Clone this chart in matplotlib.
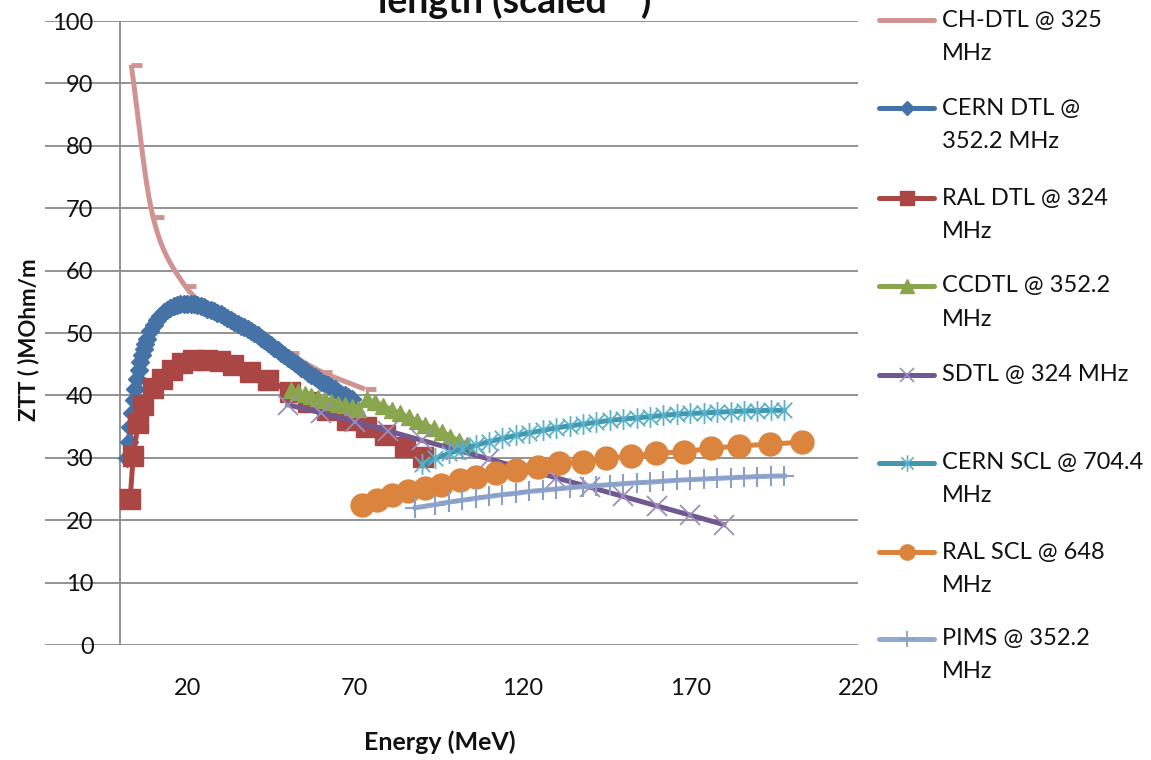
import numpy as np
import matplotlib
matplotlib.use('Agg')
import matplotlib.pyplot as plt
from matplotlib.path import Path
from matplotlib.lines import Line2D

# ---------------- data ----------------
ch_dtl_x = [3.3, 9.8, 19.3, 30, 40, 50, 60, 73]
ch_dtl_y = [93.0, 68.6, 57.6, 52.8, 49.6, 46.8, 43.8, 41.0]

cern_dtl_x = [2, 2.5, 3, 3.5, 4, 4.5, 5, 5.5, 6, 6.5, 7, 7.5, 8, 9, 10, 11, 12, 13, 14, 15,
              16, 17, 18, 19, 20, 21, 22, 23, 24, 25, 26, 27, 28, 29, 30, 31, 32, 33, 34, 35,
              36, 37, 38, 39, 40, 41, 42, 43, 44, 45, 46, 47, 48, 49, 50, 51, 52, 53, 54, 55,
              56, 57, 58, 59, 60, 61, 62, 63, 64, 65, 66, 67, 68, 69]
cern_dtl_y = [30.0, 32.6, 35.0, 37.2, 39.2, 41.0, 42.6, 44.0, 45.3, 46.4, 47.4, 48.3, 49.0, 50.3,
              51.3, 52.1, 52.8, 53.3, 53.7, 54.0, 54.3, 54.5, 54.6, 54.7, 54.7, 54.7, 54.6, 54.5,
              54.3, 54.1, 53.9, 53.7, 53.5, 53.2, 53.0, 52.7, 52.4, 52.1, 51.8, 51.5, 51.2, 50.9,
              50.6, 50.3, 50.0, 49.6, 49.2, 48.8, 48.4, 48.0, 47.6, 47.2, 46.8, 46.4, 46.0, 45.6,
              45.2, 44.8, 44.4, 44.0, 43.6, 43.3, 42.9, 42.6, 42.2, 41.9, 41.6, 41.3, 41.0, 40.6,
              40.3, 40.0, 39.7, 39.4]

ral_dtl_x = [3.0, 3.9, 5.4, 6.9, 9.9, 12.4, 15.4, 18.4, 21.8, 25.8, 29.8, 33.7, 38.7, 44.1,
             50.6, 56.0, 61.6, 67.5, 73.4, 78.9, 84.8, 90.2]
ral_dtl_y = [23.4, 30.3, 35.6, 38.5, 41.2, 42.7, 44.1, 45.2, 45.6, 45.7, 45.5, 44.9, 43.8, 42.5,
             40.6, 39.0, 37.7, 36.1, 35.0, 33.7, 31.8, 30.2]

ccdtl_x = [51, 53, 55, 57, 59, 61, 63, 65, 67, 69, 71,
           73.5, 76, 78.5, 81, 83.5, 86, 88.5, 91, 93.5, 96, 98.5, 101, 103.5]
ccdtl_y = [40.8, 40.5, 40.2, 39.9, 39.6, 39.3, 39.0, 38.7, 38.4, 38.1, 37.8,
           39.4, 38.9, 38.3, 37.7, 37.1, 36.5, 35.9, 35.3, 34.7, 34.1, 33.4, 32.7, 32.0]

sdtl_x = [50, 60, 70, 80, 90, 100, 110, 120, 130, 140, 150, 160, 170, 180]
sdtl_y = [38.5, 37.2, 35.8, 34.3, 32.8, 31.3, 29.8, 28.3, 26.8, 25.3, 23.8, 22.3, 20.8, 19.3]

cern_scl_x = [90, 94, 98, 102, 106, 110, 114, 118, 122, 126, 130, 134, 138, 142, 146, 150,
              154, 158, 162, 166, 170, 174, 178, 182, 186, 190, 194, 198]
cern_scl_y = [29.0, 29.9, 30.7, 31.4, 32.0, 32.6, 33.1, 33.6, 34.0, 34.4, 34.8, 35.1, 35.4,
              35.7, 36.0, 36.2, 36.4, 36.6, 36.8, 37.0, 37.1, 37.2, 37.3, 37.4, 37.5, 37.55,
              37.6, 37.6]

ral_scl_x = [72, 76.5, 81, 85.8, 90.8, 95.7, 101.2, 106.2, 112.1, 118.1, 124.5, 131, 137.9,
             144.8, 152.3, 159.7, 168.2, 176.1, 184.5, 193.9, 203.4]
ral_scl_y = [22.4, 23.2, 24.0, 24.6, 25.2, 25.7, 26.4, 27.0, 27.6, 28.1, 28.5, 29.1, 29.4,
             29.9, 30.3, 30.7, 31.0, 31.5, 31.9, 32.2, 32.5]

pims_x = [88, 94, 98, 102, 106, 110, 114, 118, 122, 126, 130, 134, 138, 142, 146, 150, 154,
          158, 162, 166, 170, 174, 178, 182, 186, 190, 194, 198]
pims_y = [22.0, 22.5, 22.9, 23.2, 23.5, 23.8, 24.1, 24.3, 24.6, 24.8, 25.0, 25.2, 25.4, 25.55,
          25.7, 25.85, 26.0, 26.1, 26.25, 26.4, 26.5, 26.6, 26.7, 26.8, 26.9, 27.0, 27.05, 27.1]

labels = ["CH-DTL @ 325\nMHz", "CERN DTL @\n352.2 MHz", "RAL DTL @ 324\nMHz",
          "CCDTL @ 352.2\nMHz", "SDTL @ 324 MHz", "CERN SCL @ 704.4\nMHz",
          "RAL SCL @ 648\nMHz", "PIMS @ 352.2\nMHz"]
x_ticks = [20, 70, 120, 170, 220]
y_ticks = [0, 10, 20, 30, 40, 50, 60, 70, 80, 90, 100]

# ---------------- styling ----------------
PINK, BLUE, RED, GREEN = '#D19392', '#4572A7', '#AA4643', '#89A54E'
PURPLE, TEAL, ORANGE, LBLUE = '#71588F', '#4198AF', '#DB843D', '#93A9CF'
GRID = '#8a8a8a'
TXT = '#111111'

W, H = 1151, 760
plt.rcParams['font.family'] = ['Lato', 'DejaVu Sans']
fig = plt.figure(figsize=(W / 100, H / 100), dpi=100)


def fx(px):
    return px / W


def fy(py):
    return 1 - py / H


ax = fig.add_axes([fx(45), fy(645), fx(858) - fx(45), fy(21) - fy(645)])
ax.set_xlim(-22.4, 220)
ax.set_ylim(0, 100)
for s in ax.spines.values():
    s.set_visible(False)
ax.set_axisbelow(True)
ax.yaxis.grid(True, color=GRID, lw=1.3)
ax.axvline(0, color=GRID, lw=1.3, zorder=0.6)
ax.set_yticks(y_ticks)
ax.set_xticks(x_ticks)
ax.tick_params(axis='y', length=0, pad=-35, labelsize=17, labelcolor=TXT)
ax.tick_params(axis='x', length=0, pad=24, labelsize=17, labelcolor=TXT)

dash = Path([(0, 0), (1, 0)], [Path.MOVETO, Path.LINETO])
star = Path([(-1, -1), (1, 1), (-1, 1), (1, -1), (0, -1.35), (0, 1.35)],
            [Path.MOVETO, Path.LINETO, Path.MOVETO, Path.LINETO, Path.MOVETO, Path.LINETO])


def smooth(x, y, n=20):
    P = np.column_stack([np.asarray(x, float), np.asarray(y, float)])
    P = np.vstack([2 * P[0] - P[1], P, 2 * P[-1] - P[-2]])
    t = np.linspace(0, 1, n, endpoint=False)[:, None]
    out = []
    for i in range(1, len(P) - 2):
        p0, p1, p2, p3 = P[i - 1], P[i], P[i + 1], P[i + 2]
        out.append(0.5 * (2 * p1 + (-p0 + p2) * t + (2 * p0 - 5 * p1 + 4 * p2 - p3) * t ** 2
                          + (-p0 + 3 * p1 - 3 * p2 + p3) * t ** 3))
    out.append(P[-2][None, :])
    out = np.vstack(out)
    return out[:, 0], out[:, 1]


LW = 3.6
sx, sy = smooth(ch_dtl_x, ch_dtl_y)
ax.plot(sx, sy, color=PINK, lw=LW, zorder=2, solid_capstyle='butt')
ax.plot(ch_dtl_x, ch_dtl_y, ls='none', marker=dash, ms=16, mew=3.5, mec=PINK, zorder=2)

ax.plot(cern_dtl_x, cern_dtl_y, color=BLUE, lw=LW, marker='D', ms=9.5, mfc=BLUE, mec=BLUE, zorder=3)
ax.plot(ral_dtl_x, ral_dtl_y, color=RED, lw=LW, marker='s', ms=15, mfc=RED, mec=RED, zorder=4)
ax.plot(ccdtl_x, ccdtl_y, color=GREEN, lw=LW, marker='^', ms=12, mfc=GREEN, mec=GREEN, zorder=5)
ax.plot(sdtl_x, sdtl_y, color=PURPLE, lw=LW, marker='x', ms=14, mew=1.3, mec='#9D8CBC', zorder=6)
ax.plot(cern_scl_x, cern_scl_y, color=TEAL, lw=LW, marker=star, ms=15, mew=1.3, mec='#5AB2CA',
        mfc='none', zorder=7)
ax.plot(ral_scl_x, ral_scl_y, color=ORANGE, lw=LW, marker='o', ms=16.5, mfc=ORANGE, mec=ORANGE, zorder=8)
ax.plot(pims_x, pims_y, color=LBLUE, lw=LW, marker='+', ms=14, mew=1.5, mec='#8AA0C9', zorder=9)

# axis titles
fig.text(fx(440), fy(742), 'Energy (MeV)', ha='center', va='center', fontsize=18,
         fontweight='bold', color=TXT)
fig.text(fx(29), fy(340), 'ZTT ( )MOhm/m', ha='center', va='center', rotation=90,
         fontsize=16, fontweight='bold', color=TXT)
fig.text(fx(515), fy(0), 'length (scaled \u207b\u00b9)', ha='center', va='center', fontsize=27,
         fontweight='bold', color=TXT)

# legend (manual)
styles = [
    dict(color=PINK, marker=None),
    dict(color=BLUE, marker='D', ms=7, mfc=BLUE, mec=BLUE),
    dict(color=RED, marker='s', ms=10, mfc=RED, mec=RED),
    dict(color=GREEN, marker='^', ms=10, mfc=GREEN, mec=GREEN),
    dict(color=PURPLE, marker='x', ms=10, mew=1.2, mec='#9D8CBC'),
    dict(color=TEAL, marker=star, ms=12, mew=1.2, mec='#5AB2CA', mfc='none'),
    dict(color=ORANGE, marker='o', ms=11, mfc=ORANGE, mec=ORANGE),
    dict(color=LBLUE, marker='+', ms=12, mew=1.3, mec='#8AA0C9'),
]
leg_y = [20, 108, 198, 286, 375, 463, 552, 639]
for lab, st, yy in zip(labels, styles, leg_y):
    fig.add_artist(Line2D([fx(879), fx(934)], [fy(yy), fy(yy)], color=st['color'], lw=3.6,
                          solid_capstyle='round', transform=fig.transFigure))
    if st.get('marker') is not None:
        kw = {k: v for k, v in st.items() if k not in ('color',)}
        fig.add_artist(Line2D([fx(906.5)], [fy(yy)], ls='none', transform=fig.transFigure, **kw))
    lines = lab.split('\n')
    for k, ln in enumerate(lines):
        fig.text(fx(942), fy(yy + 33 * k), ln, ha='left', va='center', fontsize=17, color=TXT)

fig.savefig('out.png', dpi=100)
